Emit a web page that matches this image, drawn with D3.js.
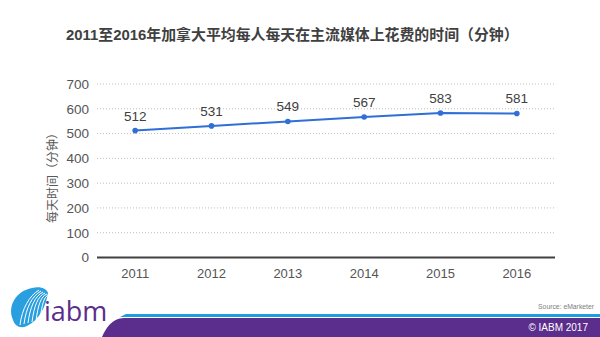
<!DOCTYPE html>
<html>
<head>
<meta charset="utf-8">
<script src="https://cdn.jsdelivr.net/npm/d3@7"></script>
<style>
  html, body { margin: 0; padding: 0; background: #ffffff; }
  svg { display: block; }
</style>
</head>
<body>
<svg id="chart" width="600" height="337"></svg>
<script>
// Average daily minutes spent on traditional media in Canada
const years = ["2011", "2012", "2013", "2014", "2015", "2016"];
const minutes = [512, 531, 549, 567, 583, 581];
const yTicks = [0, 100, 200, 300, 400, 500, 600, 700];

const titleText = "2011至2016年加拿大平均每人每天在主流媒体上花费的时间（分钟）";
const yLabel = "每天时间（分钟）";
const sourceText = "Source: eMarketer";
const copyrightText = "© IABM 2017";

const svg = d3.select("#chart");
const W = 600, H = 337;
const plot = { left: 97, right: 555, top: 84, bottom: 257.5 };

const x = d3.scaleBand().domain(years).range([plot.left, plot.right]);
const y = d3.scaleLinear().domain([0, 700]).range([plot.bottom, plot.top]);

const latin = "'Liberation Sans', Arial, sans-serif";
const cjk = "'Liberation Sans', 'Noto Sans CJK SC', sans-serif";

// Title
svg.append("text")
  .attr("x", 66).attr("y", 40)
  .attr("font-family", cjk).attr("font-size", 14.9).attr("font-weight", "bold")
  .attr("fill", "#404040")
  .text(titleText);

// Dotted gridlines
const grid = svg.append("g");
grid.selectAll("line").data(yTicks.filter(d => d > 0)).join("line")
  .attr("x1", plot.left).attr("x2", plot.right)
  .attr("y1", d => y(d)).attr("y2", d => y(d))
  .attr("stroke", "#bdbdbd").attr("stroke-width", 1)
  .attr("stroke-dasharray", "1,2");

// Y axis labels
const yAxis = d3.axisLeft(y).tickValues(yTicks).tickSize(0).tickPadding(0);
const gy = svg.append("g").attr("transform", `translate(${plot.left - 8},0)`).call(yAxis);
gy.select(".domain").remove();
gy.selectAll("text").attr("font-family", latin).attr("font-size", 13.5).attr("fill", "#555555");

// X axis
const xAxis = d3.axisBottom(x).tickSize(0).tickPadding(11);
const gx = svg.append("g").attr("transform", `translate(0,${plot.bottom})`).call(xAxis);
gx.select(".domain").attr("stroke", "#404040").attr("stroke-width", 2)
  .attr("d", `M${plot.left},0H${plot.right}`);
gx.selectAll("text").attr("font-family", latin).attr("font-size", 13).attr("fill", "#555555");

// Y axis title
svg.append("text")
  .attr("transform", `translate(57,175) rotate(-90)`)
  .attr("text-anchor", "middle")
  .attr("font-family", "'Noto Sans CJK SC', sans-serif").attr("font-size", 12)
  .attr("fill", "#595959")
  .text(yLabel);

// Line series
const cx = d => x(d) + x.bandwidth() / 2;
const series = years.map((yr, i) => ({ yr, v: minutes[i] }));
svg.append("path").datum(series)
  .attr("fill", "none").attr("stroke", "#2f6fd6").attr("stroke-width", 2)
  .attr("d", d3.line().x(d => cx(d.yr)).y(d => y(d.v)));
svg.append("g").selectAll("circle").data(series).join("circle")
  .attr("cx", d => cx(d.yr)).attr("cy", d => y(d.v)).attr("r", 2.8)
  .attr("fill", "#2f6fd6");
svg.append("g").selectAll("text").data(series).join("text")
  .attr("x", d => cx(d.yr)).attr("y", d => y(d.v) - 10)
  .attr("text-anchor", "middle")
  .attr("font-family", latin).attr("font-size", 13.5).attr("fill", "#404040")
  .text(d => d.v);

// Footer band
svg.append("path")
  .attr("d", `M126,314 L${W},314 L${W},317 L120,317 Z`)
  .attr("fill", "#1e9ee2");
svg.append("path")
  .attr("d", `M124,318 C112,318 106,328 102,${H} L${W},${H} L${W},318 Z`)
  .attr("fill", "#5b2d8c");

svg.append("text")
  .attr("x", 594).attr("y", 309).attr("text-anchor", "end")
  .attr("font-family", latin).attr("font-size", 6.8).attr("fill", "#808080")
  .text(sourceText);
svg.append("text")
  .attr("x", 588).attr("y", 331).attr("text-anchor", "end")
  .attr("font-family", latin).attr("font-size", 10).attr("fill", "#ffffff")
  .text(copyrightText);

// Logo: blue swoosh with white arcs, then wordmark
const logo = svg.append("g");
logo.append("path")
  .attr("d", "M13,320 C7,306 16,291 32,288 C41,286 47,289 48,293 C46,305 40,320 27,326 C20,329 15,326 13,320 Z")
  .attr("fill", "#2a9fe0");
[0, 1, 2, 3, 4, 5].forEach(i => {
  logo.append("path")
    .attr("d", `M${20 + i * 4},${325 - i} C${22 + i * 4},${309 - i} ${29 + i * 3},${296} ${39 + i * 2},${290 + i}`)
    .attr("fill", "none").attr("stroke", "#ffffff").attr("stroke-width", 1);
});
logo.append("text")
  .attr("x", 44).attr("y", 321)
  .attr("font-family", "'Open Sans', 'Liberation Sans', sans-serif").attr("font-size", 27)
  .attr("fill", "#5b2d8c")
  .text("iabm");
</script>
</body>
</html>
